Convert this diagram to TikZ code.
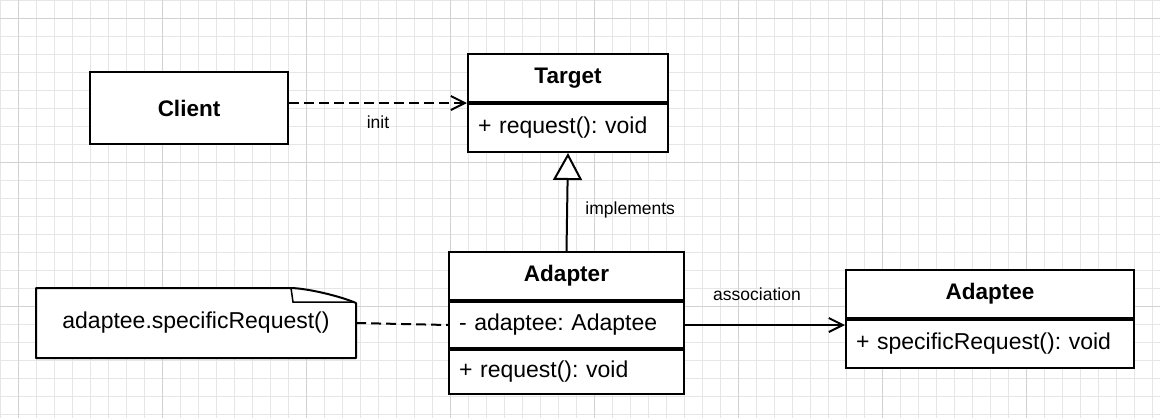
\documentclass[tikz,border=0pt]{standalone}
\usepackage{fontspec}
\setmainfont{Liberation Sans}
\usetikzlibrary{arrows.meta, positioning, calc}
\definecolor{gridminor}{RGB}{230,230,230}
\definecolor{gridmajor}{RGB}{210,210,210}
\frenchspacing

\begin{document}
\begin{tikzpicture}[
    x=1pt, y=-1pt,
    classname/.style={rectangle, draw, line width=2pt, fill=white, minimum height=48pt, font=\fontsize{22.5}{27}\selectfont\bfseries},
    member/.style={rectangle, draw, line width=2pt, fill=white, minimum height=48pt, inner xsep=10pt, text width=#1, align=left, font=\fontsize{23}{28}\selectfont},
    label/.style={font=\fontsize{17.5}{21}\selectfont},
    dep/.style={line width=2pt, dash pattern=on 10pt off 5pt, -{Straight Barb[length=14pt,width=14pt]}},
    assoc/.style={line width=2pt, -{Straight Barb[length=14pt,width=14pt]}},
    realize/.style={line width=2pt, -{Triangle[length=27pt,width=29pt,fill=white]}},
    anchorline/.style={line width=2pt, dash pattern=on 10pt off 5pt}
]
\useasboundingbox (0,0) rectangle (1160,418);

% background grid
\fill[white] (0,0) rectangle (1160,418);
\foreach \gx in {0,18,...,1160} \draw[gridminor, line width=1pt] (\gx,0) -- (\gx,418);
\foreach \gy in {0,18,...,418} \draw[gridminor, line width=1pt] (0,\gy) -- (1160,\gy);
\foreach \gx in {18,162,...,1160} \draw[gridmajor, line width=1pt] (\gx,0) -- (\gx,418);
\foreach \gy in {18,162,...,418} \draw[gridmajor, line width=1pt] (0,\gy) -- (1160,\gy);

% classes
\node[classname, minimum width=198pt, minimum height=72pt] (client) at (189,108) {Client};

\node[classname, minimum width=200pt] (target) at (568,78) {Target};
\node[member=180pt, below=0pt of target] (targetops) {+ request(): void};

\node[classname, minimum width=235pt] (adapter) at (566.5,276) {Adapter};
\node[member=215pt, minimum height=46pt, below=0pt of adapter] (adapterattr) {- adaptee: Adaptee};
\node[member=215pt, minimum height=44pt, below=0pt of adapterattr] (adapterops) {+ request(): void};

\node[classname, minimum width=288pt] (adaptee) at (990,294) {Adaptee};
\node[member=268pt, below=0pt of adaptee] (adapteeops) {+ specificRequest(): void};

% note with folded corner
\coordinate (notenw) at (36,288);
\coordinate (notene) at (356,288);
\coordinate (notese) at (356,358);
\draw[line width=2pt, line join=round, fill=white] (notenw) -- ($(notene)+(-66,0)$)
    .. controls ($(notene)+(-50,0)$) and ($(notene)+(-16,8)$) .. ($(notene)+(0,15)$)
    -- (notese) -- (notenw |- notese) -- cycle;
\draw[line width=1.5pt] ($(notene)+(-65,0)$) -- ($(notene)+(-63,14)$) -- ($(notene)+(-2,14)$);
\node[minimum width=320pt, minimum height=70pt, font=\fontsize{23}{28}\selectfont] (note) at (196,323) {adaptee.specificRequest()};

% connectors
\draw[dep] (client.east |- target.south west) -- node[label, below=8pt] {init} (target.south west);
\draw[realize] (adapter.north) -- node[label, right=14pt, pos=0.42] {implements} (targetops.south);
\draw[assoc] (adapterattr.east) -- node[label, above=20pt, pos=0.45] {association} (adapterattr.east -| adaptee.west);
\draw[anchorline] (note.east) -- (adapterattr.west);

\end{tikzpicture}
\end{document}
